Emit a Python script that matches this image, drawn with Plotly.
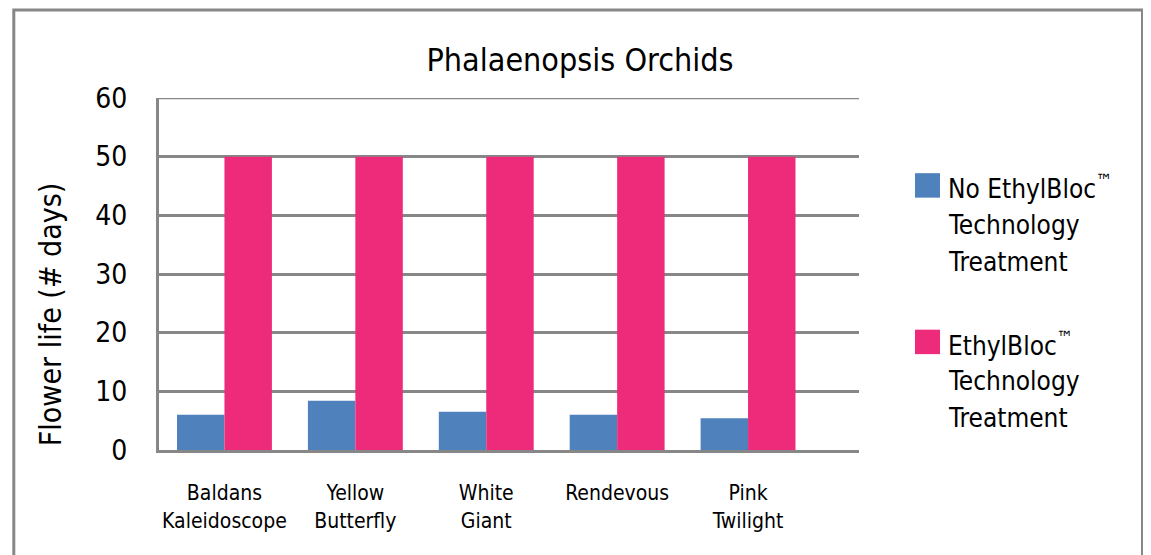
import plotly.graph_objects as go

categories = ["Baldans<br>Kaleidoscope", "Yellow<br>Butterfly", "White<br>Giant", "Rendevous", "Pink<br>Twilight"]
no_treatment = [6.0, 8.4, 6.5, 6.0, 5.4]
treatment = [50, 50, 50, 50, 50]
series_names = ["No EthylBloc™ Technology Treatment", "EthylBloc™ Technology Treatment"]
legend_lines = [["No EthylBloc<sup>™</sup>", "Technology", "Treatment"], ["EthylBloc<sup>™</sup>", "Technology", "Treatment"]]
y_ticks = [0, 10, 20, 30, 40, 50, 60]
y_max = 60

BLUE = "#4F81BD"
PINK = "#EE2A7B"
GRID = "#878787"
FONT = "Liberation Sans Narrow, DejaVu Sans Condensed, Arial Narrow, sans-serif"

OFF = 8  # page body margin offset
W, H = 1151, 555
L, T = 159 - OFF, 98 - OFF
RIGHT, BOTTOM = 859 - OFF, 450.5 - OFF
R, B = W - RIGHT, H - BOTTOM
PW, PH = RIGHT - L, BOTTOM - T

def px(x):
    return (x - OFF - L) / PW

def py(y):
    return (BOTTOM - (y - OFF)) / PH

fig = go.Figure()
fig.add_trace(go.Bar(x=list(range(len(categories))), y=no_treatment, name=series_names[0],
                     marker=dict(color=BLUE, line=dict(width=0))))
fig.add_trace(go.Bar(x=list(range(len(categories))), y=treatment, name=series_names[1],
                     marker=dict(color=PINK, line=dict(width=0))))

shapes = []
# outer frame (left, top, right)
shapes.append(dict(type="path", xref="paper", yref="paper",
                   path=f"M {px(13.8)} {py(620)} L {px(13.8)} {py(10)} L {px(1142.5)} {py(10)} L {px(1142.5)} {py(620)}",
                   line=dict(color=GRID, width=3), layer="above"))
# top gridline at axis maximum
shapes.append(dict(type="line", xref="paper", yref="y", x0=0, x1=1, y0=y_max, y1=y_max,
                   line=dict(color=GRID, width=2.5), layer="below"))

annotations = []
colors = [BLUE, PINK]
square_tops = [173.3, 330]
line_centers = [[187, 225, 262], [344, 381, 418]]
for i in range(2):
    shapes.append(dict(type="rect", xref="paper", yref="paper",
                       x0=px(915), x1=px(940), y0=py(square_tops[i]), y1=py(square_tops[i] + 24.5),
                       fillcolor=colors[i], line=dict(width=0)))
    for j, txt in enumerate(legend_lines[i]):
        annotations.append(dict(xref="paper", yref="paper", x=px(946), y=py(line_centers[i][j]),
                                text=txt, showarrow=False, xanchor="left", yanchor="middle",
                                font=dict(family=FONT, size=26, color="black")))

annotations.append(dict(xref="paper", yref="paper", x=px(50), y=py(314.5), text="Flower life (# days)",
                        textangle=-90, showarrow=False, xanchor="center", yanchor="middle",
                        font=dict(family=FONT, size=30, color="black")))

fig.update_layout(
    width=W, height=H,
    margin=dict(l=L, r=R, t=T, b=B, pad=0),
    paper_bgcolor="white", plot_bgcolor="white",
    showlegend=False,
    barmode="group", bargap=0.275, bargroupgap=0,
    title=dict(text="Phalaenopsis Orchids", x=(580 - OFF) / W, xanchor="center", y=1 - (60 - OFF) / H,
               yanchor="middle", yref="container", font=dict(family=FONT, size=32, color="black")),
    xaxis=dict(tickmode="array", tickvals=list(range(len(categories))), ticktext=categories,
               range=[-0.5, -0.5 + PW / 130.9], showgrid=False, zeroline=False,
               showline=True, linecolor=GRID, linewidth=3, ticks="", ticklabelstandoff=22,
               tickfont=dict(family=FONT, size=21, color="black")),
    yaxis=dict(range=[0, y_max], tickvals=y_ticks, showgrid=True, gridcolor=GRID, gridwidth=2.5,
               zeroline=False, showline=True, linecolor=GRID, linewidth=3, ticks="",
               ticklabelstandoff=23, tickfont=dict(family=FONT, size=28, color="black")),
    shapes=shapes,
    annotations=annotations,
)

fig.write_html("out.html")
